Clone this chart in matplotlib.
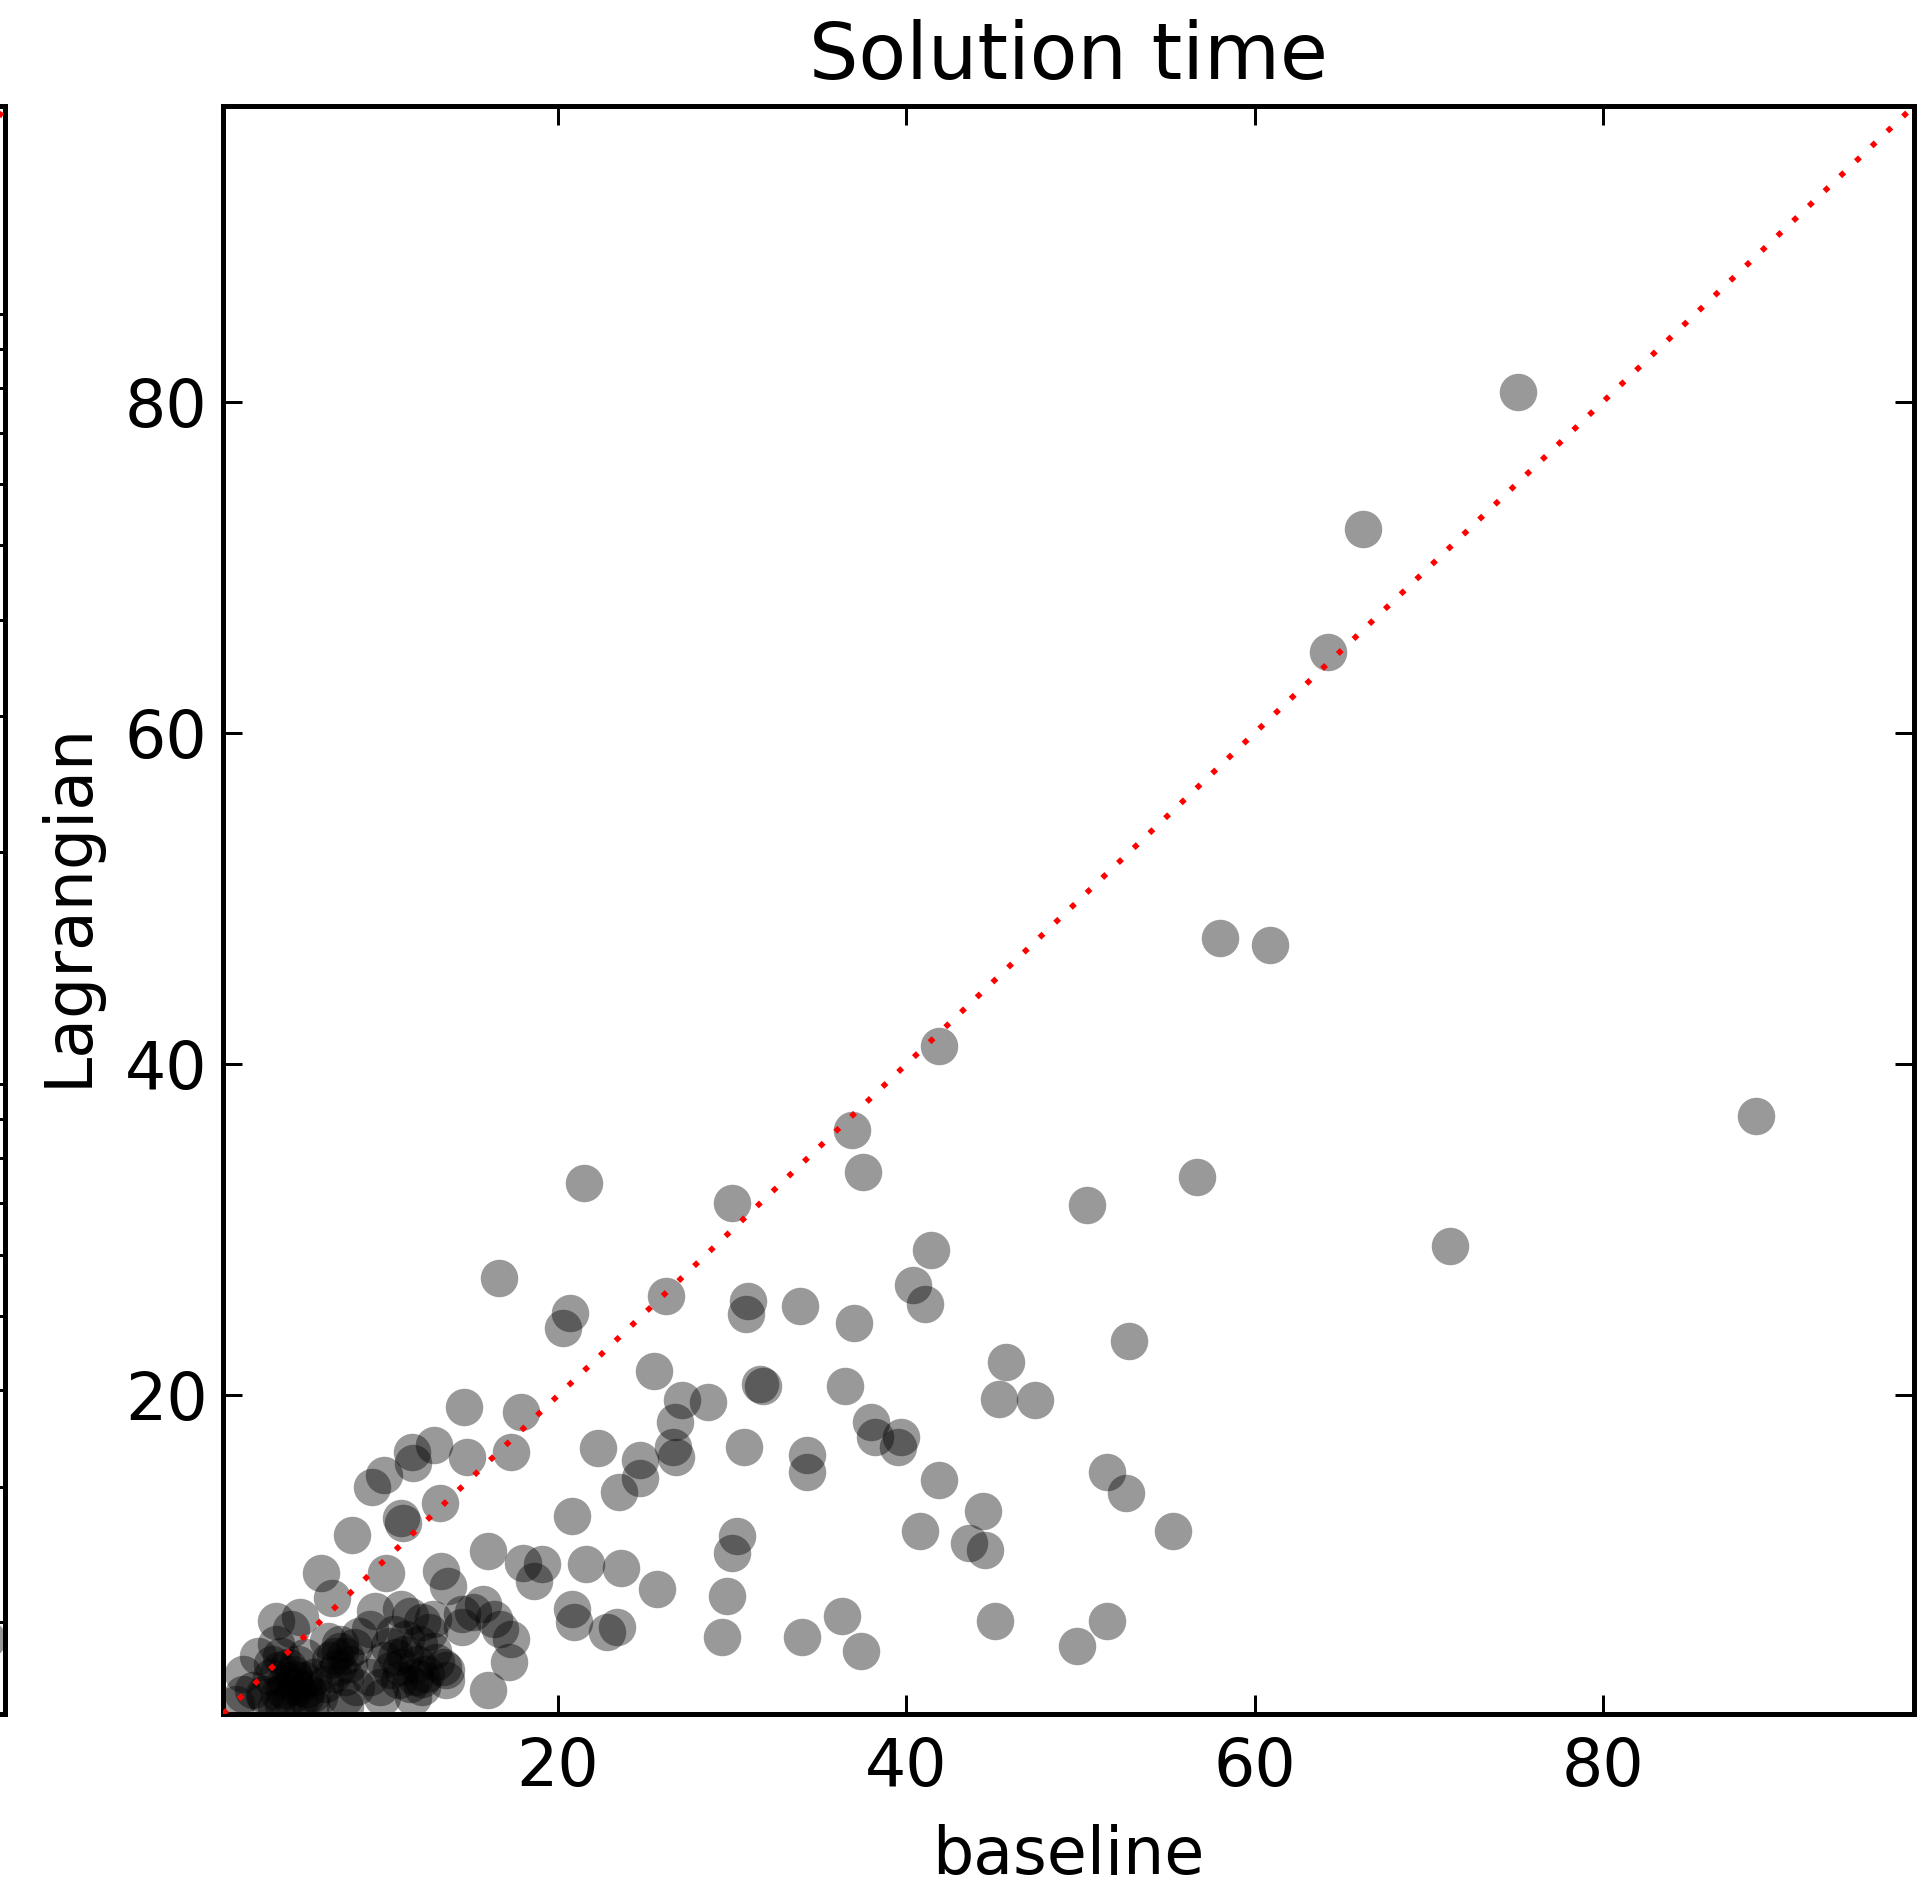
import numpy as np
import matplotlib
matplotlib.use('Agg')
import matplotlib.pyplot as plt

# ---------------- data ----------------
baseline = [75.1, 66.2, 64.2, 58.0, 60.9, 41.9, 36.9, 37.5, 88.8, 56.7,
            50.4, 71.2, 21.5, 30.0, 16.6, 41.4, 40.4, 41.1, 26.2, 30.9,
            30.8, 33.9, 37.0, 20.7, 20.3, 52.8, 25.5, 45.7, 45.3, 47.4,
            36.5, 31.6, 31.8, 28.6, 27.1, 26.7, 26.6, 26.8, 14.6, 17.9,
            14.8, 17.3, 12.9, 11.6, 11.7, 10.0, 9.3, 22.3, 24.7, 24.7,
            23.5, 30.7, 34.3, 34.3, 38.0, 38.2, 39.7, 39.5, 41.9, 51.5,
            52.6, 44.4, 43.6, 44.5, 40.8, 55.3, 13.2, 11.0, 11.1, 8.2,
            20.8, 30.3, 30.0, 16.0, 18.0, 19.1, 18.6, 21.6, 23.6, 25.7,
            29.7, 20.8, 20.9, 36.3, 45.1, 51.5, 22.8, 23.4, 29.4, 34.0,
            37.4, 49.8, 16.0, 13.3, 13.7, 15.7, 15.1, 16.3, 16.7, 17.3,
            17.2, 14.5, 14.5, 13.6, 12.6, 12.8, 13.0, 12.2,
            6.4, 10.1, 7.0, 3.8, 5.2, 4.7, 9.5, 11.0, 11.5, 12.2,
            2.8, 3.8, 4.1, 7.5, 7.2, 7.8, 8.6, 9.2, 10.3, 10.7,
            11.3, 11.9, 12.8, 12.4, 1.9, 1.9, 2.5, 1.5, 4.4, 5.0,
            5.4, 4.6, 5.5, 4.0, 4.8, 5.2, 3.1, 3.8, 6.3, 7.1,
            7.8, 7.8, 8.4, 9.2, 9.8, 9.9, 10.9, 11.7, 11.5, 12.2,
            13.4, 13.6,
            4.3, 4.9, 5.6, 4.5, 5.1, 3.5, 6.0, 5.8, 3.6, 6.6,
            8.0, 6.9, 8.3, 7.4, 11.0, 11.8, 10.4,
            3.2, 4.2, 5.9, 4.0, 5.5, 7.5, 7.8, 10.0, 11.2, 12.0,
            10.6, 6.8]
lagrangian = [80.6, 72.3, 64.9, 47.6, 47.2, 41.1, 36.0, 33.5, 36.9, 33.2,
              31.5, 29.0, 32.8, 31.6, 27.1, 28.8, 26.7, 25.5, 26.0, 25.7,
              24.9, 25.4, 24.4, 25.0, 24.1, 23.3, 21.5, 22.0, 19.8, 19.7,
              20.6, 20.7, 20.6, 19.6, 19.7, 18.4, 16.9, 16.3, 19.3, 19.0,
              16.3, 16.6, 17.0, 16.6, 15.9, 15.2, 14.5, 16.8, 16.1, 15.0,
              14.2, 16.9, 16.4, 15.4, 18.4, 17.5, 17.5, 16.9, 14.9, 15.4,
              14.1, 13.0, 11.1, 10.7, 11.8, 11.8, 13.5, 12.6, 12.3, 11.6,
              12.7, 11.5, 10.5, 10.6, 9.9, 9.8, 8.8, 9.8, 9.6, 8.3,
              7.9, 7.1, 6.3, 6.7, 6.4, 6.4, 5.7, 6.0, 5.4, 5.4,
              4.6, 4.9, 2.2, 9.4, 8.5, 7.4, 6.9, 6.5, 5.9, 5.3,
              3.9, 6.8, 6.0, 3.4, 5.7, 6.5, 3.9, 2.9,
              9.3, 9.3, 7.8, 6.4, 6.6, 5.9, 7.0, 7.1, 6.7, 6.3,
              4.3, 5.0, 4.3, 4.6, 4.3, 4.3, 5.5, 5.9, 4.9, 4.2,
              5.3, 3.8, 4.6, 3.2, 3.2, 2.0, 2.2, 1.4, 2.8, 2.4,
              2.8, 1.8, 1.8, 2.0, 3.2, 1.6, 2.0, 1.2, 1.8, 3.2,
              1.8, 1.2, 2.4, 3.0, 2.4, 1.8, 2.8, 1.8, 2.6, 2.4,
              3.6, 2.8,
              2.2, 2.9, 2.3, 3.6, 3.8, 3.0, 3.0, 1.4, 3.8, 2.6,
              3.8, 4.0, 4.8, 3.6, 3.6, 3.0, 3.4,
              1.8, 1.3, 2.0, 3.4, 4.2, 5.0, 3.0, 4.0, 4.4, 5.0,
              5.6, 5.2]

axis_limits = [0.77, 97.85]
tick_values = [20, 40, 60, 80]
tick_labels = ["20", "40", "60", "80"]
title_text = "Solution time"
xlabel_text = "baseline"
ylabel_text = "Lagrangian"

# neighbouring (cut-off) panel on the left edge
left_ylim = [1.52, 186.0]
left_x = [0.98]
left_y = [1.9]

# ---------------- figure ----------------
W, H, DPI = 1920, 1886, 100
PT = 72.0 / DPI  # points per pixel

plt.rcParams['font.family'] = ['DejaVu Sans']
fig = plt.figure(figsize=(W / DPI, H / DPI), dpi=DPI, facecolor='white')

ax_left, ax_right, ax_top, ax_bottom = 223, 1914, 106, 1714
ax_w, ax_h = ax_right - ax_left, ax_bottom - ax_top
ax = fig.add_axes([ax_left / W, 1 - ax_bottom / H, ax_w / W, ax_h / H])

spine_lw = 5 * PT
tick_len = 19 * PT
tick_w = 3 * PT
fs = 65 * PT
dot_style = dict(color='red', lw=4.0, linestyle=(0, (1, 2.9)))

ax.scatter(baseline, lagrangian, s=(37.5 * PT) ** 2, c='black', alpha=0.4,
           linewidths=0, zorder=2)
ax.plot(axis_limits, axis_limits, zorder=3, **dot_style)

ax.set_xlim(axis_limits)
ax.set_ylim(axis_limits)
ax.set_xticks(tick_values)
ax.set_xticklabels(tick_labels)
ax.set_yticks(tick_values)
ax.set_yticklabels(tick_labels)
ax.minorticks_off()
ax.tick_params(which='major', direction='in', top=True, right=True,
               length=tick_len, width=tick_w, labelsize=fs)
ax.tick_params(axis='y', pad=11)
ax.tick_params(axis='x', pad=16)
for sp in ax.spines.values():
    sp.set_linewidth(spine_lw)

ax.set_title(title_text, fontsize=78 * PT, pad=27 * PT)
ax.set_xlabel(xlabel_text, fontsize=fs, labelpad=17)
ax.set_ylabel(ylabel_text, fontsize=fs)
ax.yaxis.set_label_coords((101 - ax_left) / ax_w, (ax_bottom - 904) / ax_h)

# cut-off neighbouring panel: only its right spine shows at the left edge
left_w = 900
axl = fig.add_axes([(5 - left_w) / W, 1 - ax_bottom / H,
                    left_w / W, ax_h / H])
axl.set_yscale('log')
axl.set_ylim(left_ylim)
axl.set_xlim(0, 1)
axl.scatter(left_x, left_y, s=(37.5 * PT) ** 2, c='black', alpha=0.4,
            linewidths=0, zorder=2)
axl.plot([0, 1], [0, 1], transform=axl.transAxes, zorder=3, **dot_style)
axl.tick_params(which='both', direction='in', left=True, right=True,
                top=False, bottom=False, labelleft=False, labelbottom=False)
axl.tick_params(which='major', length=tick_len, width=tick_w)
axl.tick_params(which='minor', length=9 * PT, width=tick_w)
for sp in axl.spines.values():
    sp.set_linewidth(spine_lw)

fig.savefig('out.png', dpi=DPI, facecolor='white')
